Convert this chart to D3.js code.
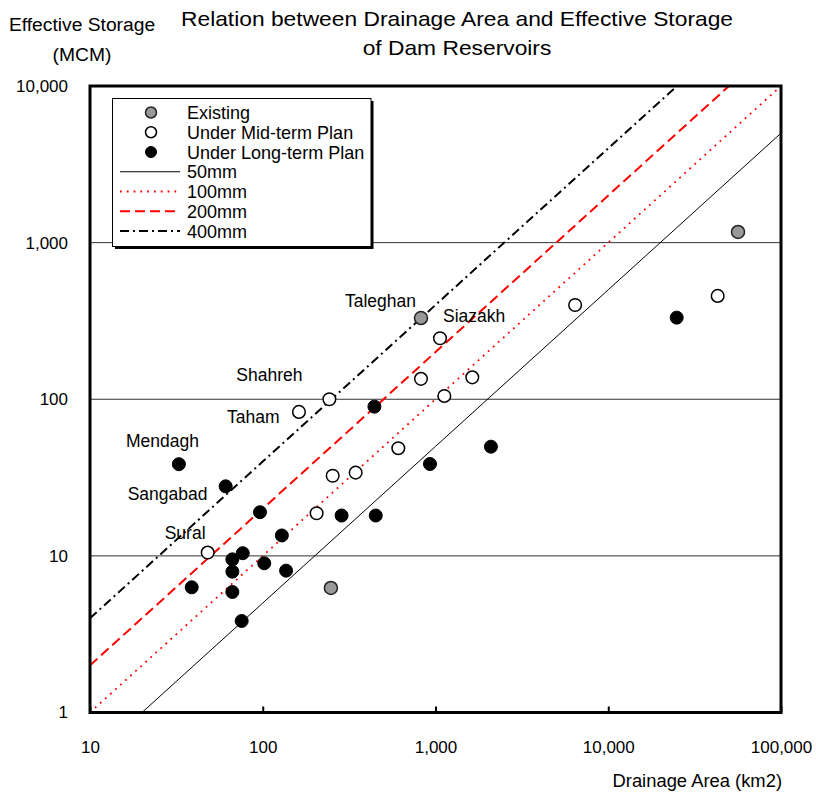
<!DOCTYPE html>
<html><head><meta charset="utf-8">
<script src="https://cdn.jsdelivr.net/npm/d3@7"></script>
<style>body{margin:0;background:#fff}svg{display:block}text{font-family:"Liberation Sans",Arial,sans-serif;fill:#000}</style>
</head><body><svg id="c" width="816" height="794"></svg>
<script>
// ---- data ----
const existingArea = [56400, 824, 248];
const existingStorage = [1170, 330, 6.24];
const midArea = [1062, 824, 1633, 1125, 243, 162, 609, 254, 345, 205, 48, 6430, 43000];
const midStorage = [245, 135, 138, 105, 100, 83, 48.7, 32.5, 34, 18.7, 10.5, 400, 457];
const longArea = [24900, 443, 929, 2094, 286, 451, 96.4, 32.7, 61, 129, 76.6, 66.7, 102, 66.7, 136.5, 38.8, 66.7, 75.5];
const longStorage = [332, 89.7, 38.6, 49.8, 18.1, 18.1, 19.0, 38.5, 27.8, 13.5, 10.4, 9.5, 8.97, 7.93, 8.05, 6.3, 5.88, 3.84];
const curveArea = [10, 100, 1000, 10000, 100000];
const s50 = [0.5, 5, 50, 500, 5000];
const s100 = [1, 10, 100, 1000, 10000];
const s200 = [2, 20, 200, 2000, 20000];
const s400 = [4, 40, 400, 4000, 40000];
const xTicks = [10, 100, 1000, 10000, 100000];
const yTicks = [1, 10, 100, 1000, 10000];
const damNames = ["Taleghan", "Siazakh", "Shahreh", "Taham", "Mendagh", "Sangabad", "Sural"];
const damSeries = ["existing", "mid", "mid", "mid", "long", "long", "mid"];
const damIndex = [1, 0, 4, 5, 7, 8, 10];
const legendNames = ["Existing", "Under Mid-term Plan", "Under Long-term Plan", "50mm", "100mm", "200mm", "400mm"];

// ---- layout / style ----
const L = 90, R = 781, T = 86, B = 712.5;
const labelOffset = {Taleghan:[-76,-11], Siazakh:[3,-16], Shahreh:[-93,-18], Taham:[-72,11], Mendagh:[-53,-17.5], Sangabad:[-98,14], Sural:[-43,-13.5]};
const markerStyle = {
  existing:{fill:"#999", stroke:"#222", r:6.5, sw:1.5},
  mid:{fill:"#fff", stroke:"#000", r:6.3, sw:1.5},
  long:{fill:"#000", stroke:"#000", r:6.5, sw:1}
};
const lineStyle = [
  {stroke:"#000", dash:null, w:1},
  {stroke:"#f00", dash:"1.8,5", w:1.8},
  {stroke:"#f00", dash:"10,5", w:2},
  {stroke:"#000", dash:"9,4,2,4", w:2}
];

const svg = d3.select("#c");
const x = d3.scaleLog().domain([10, 100000]).range([L, R]);
const y = d3.scaleLog().domain([1, 10000]).range([B, T]);

function txt(g, px, py, s, size, sx, anchor) {
  return g.append("text").attr("transform", `translate(${px},${py}) scale(${sx},1)`)
    .attr("font-size", size).attr("text-anchor", anchor || "start").text(s);
}

// title & axis titles
txt(svg, 457, 25.5, "Relation between Drainage Area and Effective Storage", 20, 1.14, "middle");
txt(svg, 457, 54.5, "of Dam Reservoirs", 20, 1.14, "middle");
txt(svg, 82, 30.5, "Effective Storage", 18, 1.07, "middle");
txt(svg, 82, 61, "(MCM)", 18, 1.07, "middle");
txt(svg, 782, 787, "Drainage Area (km2)", 17.5, 1.05, "end");

// gridlines
svg.append("g").selectAll("line").data(yTicks.filter(v => v > 1 && v < 10000)).join("line")
  .attr("x1", L).attr("x2", R).attr("y1", d => y(d)).attr("y2", d => y(d))
  .attr("stroke", "#333").attr("stroke-width", 1);

// axes (labels via d3 axes)
const fmt = d3.format(",");
const xAxis = svg.append("g").attr("transform", `translate(0,${B})`)
  .call(d3.axisBottom(x).tickValues(xTicks).tickFormat(fmt).tickSize(-6).tickPadding(40.5));
xAxis.select(".domain").remove();
xAxis.selectAll(".tick line").attr("stroke", "#000").attr("stroke-width", 2);
xAxis.selectAll(".tick text").attr("font-size", 17).attr("dy", 0).attr("font-family", '"Liberation Sans",Arial,sans-serif');
const yAxis = svg.append("g").attr("transform", `translate(${L},0)`)
  .call(d3.axisLeft(y).tickValues(yTicks).tickFormat(fmt).tickSize(0).tickPadding(22));
yAxis.select(".domain").remove();
yAxis.selectAll(".tick text").attr("font-size", 17).attr("font-family", '"Liberation Sans",Arial,sans-serif');

// clip
svg.append("clipPath").attr("id", "plot").append("rect").attr("x", L).attr("y", T).attr("width", R - L).attr("height", B - T);

// curves
const line = d3.line().x(d => x(d[0])).y(d => y(d[1]));
const curves = [s50, s100, s200, s400];
const cg = svg.append("g").attr("clip-path", "url(#plot)");
curves.forEach((s, i) => {
  cg.append("path").datum(curveArea.map((a, j) => [a, s[j]])).attr("d", line)
    .attr("fill", "none").attr("stroke", lineStyle[i].stroke).attr("stroke-width", lineStyle[i].w)
    .attr("stroke-dasharray", lineStyle[i].dash);
});

// markers
const series = {
  existing: existingArea.map((a, i) => [a, existingStorage[i]]),
  mid: midArea.map((a, i) => [a, midStorage[i]]),
  long: longArea.map((a, i) => [a, longStorage[i]])
};
["long", "mid", "existing"].forEach(k => {
  const st = markerStyle[k];
  svg.append("g").selectAll("circle").data(series[k]).join("circle")
    .attr("cx", d => x(d[0])).attr("cy", d => y(d[1])).attr("r", st.r)
    .attr("fill", st.fill).attr("stroke", st.stroke).attr("stroke-width", st.sw);
});

// dam labels
damNames.forEach((n, i) => {
  const p = series[damSeries[i]][damIndex[i]];
  const o = labelOffset[n];
  txt(svg, x(p[0]) + o[0], y(p[1]) + o[1], n, 17.5, 1, "start");
});

// frame
svg.append("rect").attr("x", L).attr("y", T).attr("width", R - L).attr("height", B - T)
  .attr("fill", "none").attr("stroke", "#000").attr("stroke-width", 3);

// legend
const lg = svg.append("g");
lg.append("rect").attr("x", 115).attr("y", 101).attr("width", 258.5).attr("height", 148).attr("fill", "#000");
lg.append("rect").attr("x", 112.5).attr("y", 98.5).attr("width", 258.5).attr("height", 148).attr("fill", "#fff").attr("stroke", "#000").attr("stroke-width", 1);
const rowY = i => 112.5 + i * 19.75;
["existing", "mid", "long"].forEach((k, i) => {
  const st = markerStyle[k];
  lg.append("circle").attr("cx", 151).attr("cy", rowY(i)).attr("r", 5.5)
    .attr("fill", st.fill).attr("stroke", st.stroke).attr("stroke-width", st.sw);
});
lineStyle.forEach((st, i) => {
  lg.append("line").attr("x1", 120).attr("x2", 180).attr("y1", rowY(i + 3)).attr("y2", rowY(i + 3))
    .attr("stroke", st.stroke).attr("stroke-width", st.w).attr("stroke-dasharray", st.dash);
});
legendNames.forEach((n, i) => txt(lg, 187, rowY(i) + 6.5, n, 17.5, 1.03, "start"));
</script></body></html>
